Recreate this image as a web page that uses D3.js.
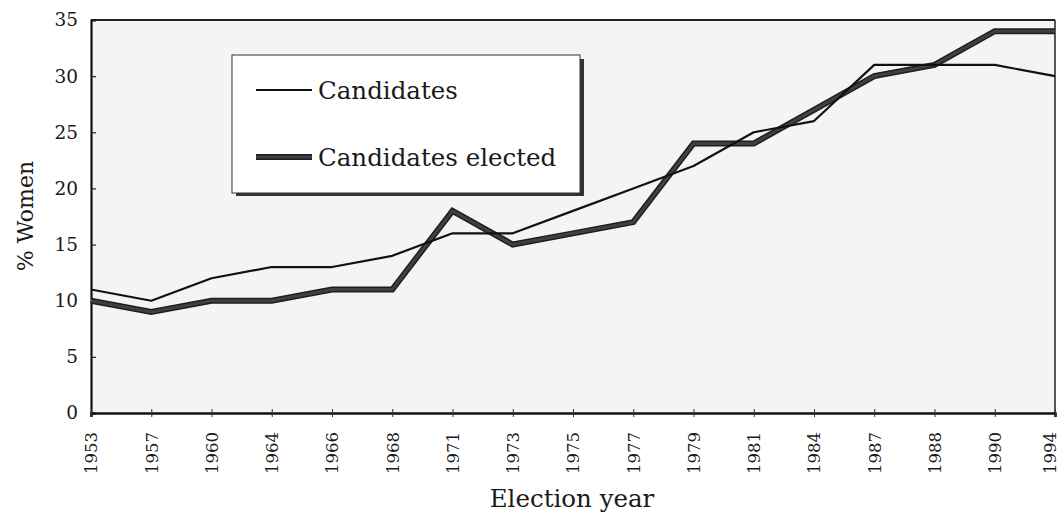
<!DOCTYPE html>
<html><head><meta charset="utf-8">
<script src="https://cdn.jsdelivr.net/npm/d3@7"></script>
<style>
html,body{margin:0;padding:0;background:#fff;}
svg text{font-family:"DejaVu Serif","Liberation Serif",serif;fill:#1a1a1a;}
</style></head><body>
<svg id="chart" width="1061" height="515"></svg>
<script>
const years = ["1953","1957","1960","1964","1966","1968","1971","1973","1975","1977","1979","1981","1984","1987","1988","1990","1994"];
const candidates = [11,10,12,13,13,14,16,16,18,20,22,25,26,31,31,31,30];
const elected = [10,9,10,10,11,11,18,15,16,17,24,24,27,30,31,34,34];
const yTicks = [0,5,10,15,20,25,30,35];
const seriesNames = ["Candidates","Candidates elected"];

const svg = d3.select("#chart");
const L = 91, R = 1055, T = 20, B = 413;
const x = d3.scalePoint().domain(years).range([L, R]);
const y = d3.scaleLinear().domain([0,35]).range([B, T]);

// plot background
svg.append("rect").attr("x",L).attr("y",T).attr("width",R-L).attr("height",B-T).attr("fill","#f4f4f4");

// frame top and right
svg.append("line").attr("x1",L).attr("x2",R).attr("y1",T).attr("y2",T).attr("stroke","#222").attr("stroke-width",2);
svg.append("line").attr("x1",R).attr("x2",R).attr("y1",T).attr("y2",B).attr("stroke","#222").attr("stroke-width",1.5);

// y axis
const yAxis = d3.axisLeft(y).tickValues(yTicks).tickSize(-5).tickPadding(13).tickFormat(d3.format("d"));
const gy = svg.append("g").attr("transform",`translate(${L},0)`).call(yAxis);
gy.select(".domain").attr("stroke","#111").attr("stroke-width",2.2);
gy.selectAll(".tick line").attr("stroke","#222").attr("stroke-width",1.2);
gy.selectAll(".tick text").attr("font-size","18.5px").attr("fill","#1a1a1a");

// x axis
const xAxis = d3.axisBottom(x).tickSize(4).tickPadding(0);
const gx = svg.append("g").attr("transform",`translate(0,${B})`).call(xAxis);
gx.select(".domain").attr("stroke","#111").attr("stroke-width",2.6);
gx.selectAll(".tick line").attr("y1",-4).attr("y2",4).attr("stroke","#333").attr("stroke-width",1);
gx.selectAll(".tick text")
  .attr("font-size","16.5px")
  .attr("text-anchor","end").attr("dy","0.36em")
  .attr("transform",(d,i)=>`translate(${i===years.length-1?-5:0},19) rotate(-90)`)
  .attr("x",0).attr("y",0).attr("fill","#1a1a1a");

// lines
const line = d3.line().x((d,i)=>x(years[i])).y(d=>y(d));
svg.append("path").datum(elected).attr("d",line).attr("fill","none")
  .attr("stroke","#1e1e1e").attr("stroke-width",6).attr("stroke-linejoin","miter");
svg.append("path").datum(elected).attr("d",line).attr("fill","none")
  .attr("stroke","#404040").attr("stroke-width",3).attr("stroke-linejoin","miter");
svg.append("path").datum(candidates).attr("d",line).attr("fill","none")
  .attr("stroke","#111").attr("stroke-width",2.2).attr("stroke-linejoin","round");

// legend
const lg = svg.append("g");
lg.append("rect").attr("x",236).attr("y",59).attr("width",348).attr("height",137).attr("fill","#333");
lg.append("rect").attr("x",232).attr("y",55).attr("width",348).attr("height",138).attr("fill","#fff").attr("stroke","#333").attr("stroke-width",1);
lg.append("line").attr("x1",256).attr("x2",312).attr("y1",90).attr("y2",90).attr("stroke","#111").attr("stroke-width",2.2);
lg.append("line").attr("x1",256).attr("x2",312).attr("y1",157).attr("y2",157).attr("stroke","#1e1e1e").attr("stroke-width",6);
lg.append("line").attr("x1",256).attr("x2",312).attr("y1",157).attr("y2",157).attr("stroke","#404040").attr("stroke-width",3);
lg.append("text").attr("x",318).attr("y",99).attr("font-size","24.5px").text(seriesNames[0]);
lg.append("text").attr("x",318).attr("y",166).attr("font-size","24.5px").text(seriesNames[1]);

// axis titles
svg.append("text").attr("x",572).attr("y",507).attr("text-anchor","middle").attr("font-size","24.5px").text("Election year");
svg.append("text").attr("transform","translate(33,216) rotate(-90)").attr("text-anchor","middle").attr("font-size","22px").text("% Women");
</script>
</body></html>
